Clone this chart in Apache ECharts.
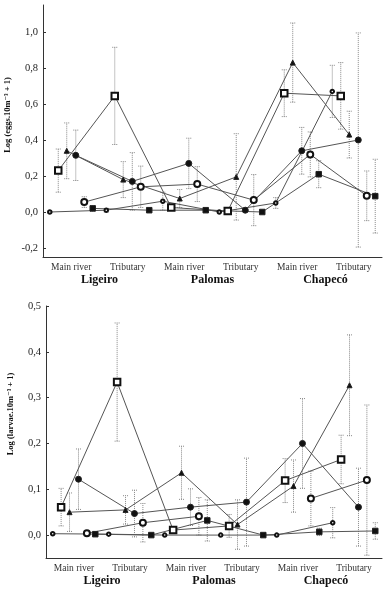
<!DOCTYPE html>
<html>
<head>
<meta charset="utf-8">
<script src="https://cdn.jsdelivr.net/npm/echarts/dist/echarts.min.js"></script>
<style>
  body { margin: 0; background: #fff; }
  #chart { width: 383px; height: 590px; }
</style>
</head>
<body>
<div id="chart"></div>
<script>
// sites (x categories) and river groups
const cats = ["Main river", "Tributary", "Main river", "Tributary", "Main river", "Tributary"];
const groups = ["Ligeiro", "Palomas", "Chapecó"];
const eggTicks = [-0.2, 0, 0.2, 0.4, 0.6, 0.8, 1.0];
const larvaTicks = [0, 0.1, 0.2, 0.3, 0.4, 0.5];

// eggs: mean and error half-width per site
const eggTiny = [0.00, 0.01, 0.06, 0.00, 0.05, 0.67];
const eggTinyErr = [0.005, 0.01, 0.05, 0, 0.03, 0.145];
const eggOpenSq = [0.23, 0.645, 0.025, 0.005, 0.66, 0.645];
const eggOpenSqErr = [0.12, 0.27, 0.015, 0.005, 0.13, 0.185];
const eggTri = [0.34, 0.18, 0.075, 0.195, 0.83, 0.43];
const eggTriErr = [0.155, 0.10, 0.05, 0.24, 0.22, 0.13];
const eggDot = [0.315, 0.17, 0.27, 0.01, 0.34, 0.40];
const eggDotErr = [0.14, 0.16, 0.14, 0.01, 0.13, 0.595];
const eggRing = [0.055, 0.14, 0.155, 0.066, 0.32, 0.09];
const eggRingErr = [0.03, 0.115, 0.097, 0.142, 0.125, 0.138];
const eggSq = [0.02, 0.01, 0.01, 0.0, 0.21, 0.088];
const eggSqErr = [0.015, 0.012, 0.01, 0, 0.075, 0.205];

// larvae
const larTiny = [0.003, 0.002, 0.0, 0.0, 0.0, 0.027];
const larTinyErr = [0.002, 0, 0, 0, 0, 0.033];
const larOpenSq = [0.061, 0.334, 0.011, 0.02, 0.119, 0.165];
const larOpenSqErr = [0.041, 0.129, 0.006, 0.025, 0.048, 0.053];
const larTri = [0.05, 0.055, 0.136, 0.023, 0.107, 0.327];
const larTriErr = [0.042, 0.031, 0.058, 0.054, 0.057, 0.11];
const larDot = [0.122, 0.047, 0.061, 0.072, 0.2, 0.061];
const larDotErr = [0.066, 0.051, 0.04, 0.096, 0.098, 0.085];
const larRing = [0.004, 0.027, 0.041, null, 0.08, 0.12];
const larRingErr = [0.004, 0.042, 0.041, null, 0.06, 0.164];
const larSq = [0.002, 0.0, 0.032, 0.0, 0.007, 0.009];
const larSqErr = [0.002, 0, 0.045, 0, 0.008, 0.018];

// marker style per series, with horizontal offset inside the category band
const markers = [
  { symbol: "emptyCircle", size: 3.5, off: -0.38 },
  { symbol: "emptyRect", size: 6.5, off: -0.23 },
  { symbol: "triangle", size: 5, off: -0.08 },
  { symbol: "circle", size: 6, off: 0.08 },
  { symbol: "emptyCircle", size: 6, off: 0.23 },
  { symbol: "rect", size: 5.5, off: 0.38 }
];

const font = "'Liberation Serif', 'DejaVu Serif', serif";
const chart = echarts.init(document.getElementById("chart"));

function errorBar(params, api) {
  const x = api.value(0);
  const lo = api.coord([x, api.value(1)]);
  const hi = api.coord([x, api.value(2)]);
  if (Math.abs(hi[1] - lo[1]) < 1) return null;
  const st = { stroke: "#888", lineWidth: 1, lineDash: [1, 1] };
  return {
    type: "group",
    children: [
      { type: "line", shape: { x1: lo[0], y1: lo[1], x2: hi[0], y2: hi[1] }, style: st },
      { type: "line", shape: { x1: lo[0] - 2.5, y1: lo[1], x2: lo[0] + 2.5, y2: lo[1] }, style: st },
      { type: "line", shape: { x1: hi[0] - 2.5, y1: hi[1], x2: hi[0] + 2.5, y2: hi[1] }, style: st }
    ]
  };
}

function panelSeries(values, errs, xIdx, yIdx) {
  let out = [];
  values.forEach((v, s) => {
    const m = markers[s];
    out.push({
      type: "custom",
      xAxisIndex: xIdx,
      yAxisIndex: yIdx,
      renderItem: errorBar,
      encode: { x: 0, y: [1, 2] },
      z: 1,
      silent: true,
      data: v.map((y, i) => y == null ? [i + m.off, null, null]
        : [i + m.off, y - errs[s][i], y + errs[s][i]])
    });
    out.push({
      type: "line",
      xAxisIndex: xIdx,
      yAxisIndex: yIdx,
      z: 3,
      symbol: m.symbol,
      symbolSize: m.size,
      showAllSymbol: true,
      connectNulls: false,
      lineStyle: { color: "#555", width: 1 },
      itemStyle: { color: "#111", borderColor: "#222", borderWidth: 1 },
      data: v.map((y, i) => [i + m.off, y])
    });
  });
  return out;
}

function catAxis(grid) {
  return {
    type: "category", gridIndex: grid, position: "bottom", data: cats,
    boundaryGap: true,
    axisLine: { onZero: false, lineStyle: { color: "#333", width: 1 } },
    axisTick: { alignWithLabel: true, inside: true, length: 3, lineStyle: { color: "#333" } },
    axisLabel: { margin: 5, fontFamily: font, fontSize: 9.5, color: "#333" }
  };
}
function groupAxis(grid) {
  return {
    type: "category", gridIndex: grid, position: "bottom", data: groups,
    axisLine: { show: false, onZero: false }, axisTick: { show: false },
    axisLabel: { margin: 17, fontFamily: font, fontSize: 12, fontWeight: "bold", color: "#111" }
  };
}
function valAxis(grid) {
  return { type: "value", gridIndex: grid, position: "top", min: -0.5, max: 5.5, show: false,
    axisLine: { onZero: false } };
}
const fmt = v => v.toFixed(1).replace(".", ",");
function yAxis(grid, min, max, ticks) {
  return {
    type: "value", gridIndex: grid, min: min, max: max, position: "left",
    splitLine: { show: false },
    axisLine: { show: true, onZero: false, lineStyle: { color: "#333", width: 1 } },
    axisTick: { show: true, inside: true, length: 3, customValues: ticks, lineStyle: { color: "#333" } },
    axisLabel: { customValues: ticks, formatter: fmt, margin: 5, fontFamily: font, fontSize: 10.5, color: "#222" }
  };
}

const option = {
  animation: false,
  backgroundColor: "#fff",
  grid: [
    { left: 43, top: 5, width: 339, height: 252 },
    { left: 46, top: 306, width: 336, height: 252 }
  ],
  xAxis: [catAxis(0), groupAxis(0), valAxis(0), catAxis(1), groupAxis(1), valAxis(1)],
  yAxis: [yAxis(0, -0.25, 1.15, eggTicks), yAxis(1, -0.05, 0.5, larvaTicks)],
  graphic: [
    {
      type: "text", x: 8, y: 115, rotation: Math.PI / 2,
      style: { text: "Log (eggs.10m⁻³ + 1)", font: "bold 8.5px " + font, fill: "#111",
        textAlign: "center", textVerticalAlign: "middle" }
    },
    {
      type: "text", x: 11, y: 414, rotation: Math.PI / 2,
      style: { text: "Log (larvae.10m⁻³ + 1)", font: "bold 8.5px " + font, fill: "#111",
        textAlign: "center", textVerticalAlign: "middle" }
    }
  ],
  series: [].concat(
    panelSeries([eggTiny, eggOpenSq, eggTri, eggDot, eggRing, eggSq],
      [eggTinyErr, eggOpenSqErr, eggTriErr, eggDotErr, eggRingErr, eggSqErr], 2, 0),
    panelSeries([larTiny, larOpenSq, larTri, larDot, larRing, larSq],
      [larTinyErr, larOpenSqErr, larTriErr, larDotErr, larRingErr, larSqErr], 5, 1)
  )
};
chart.setOption(option);
</script>
</body>
</html>
